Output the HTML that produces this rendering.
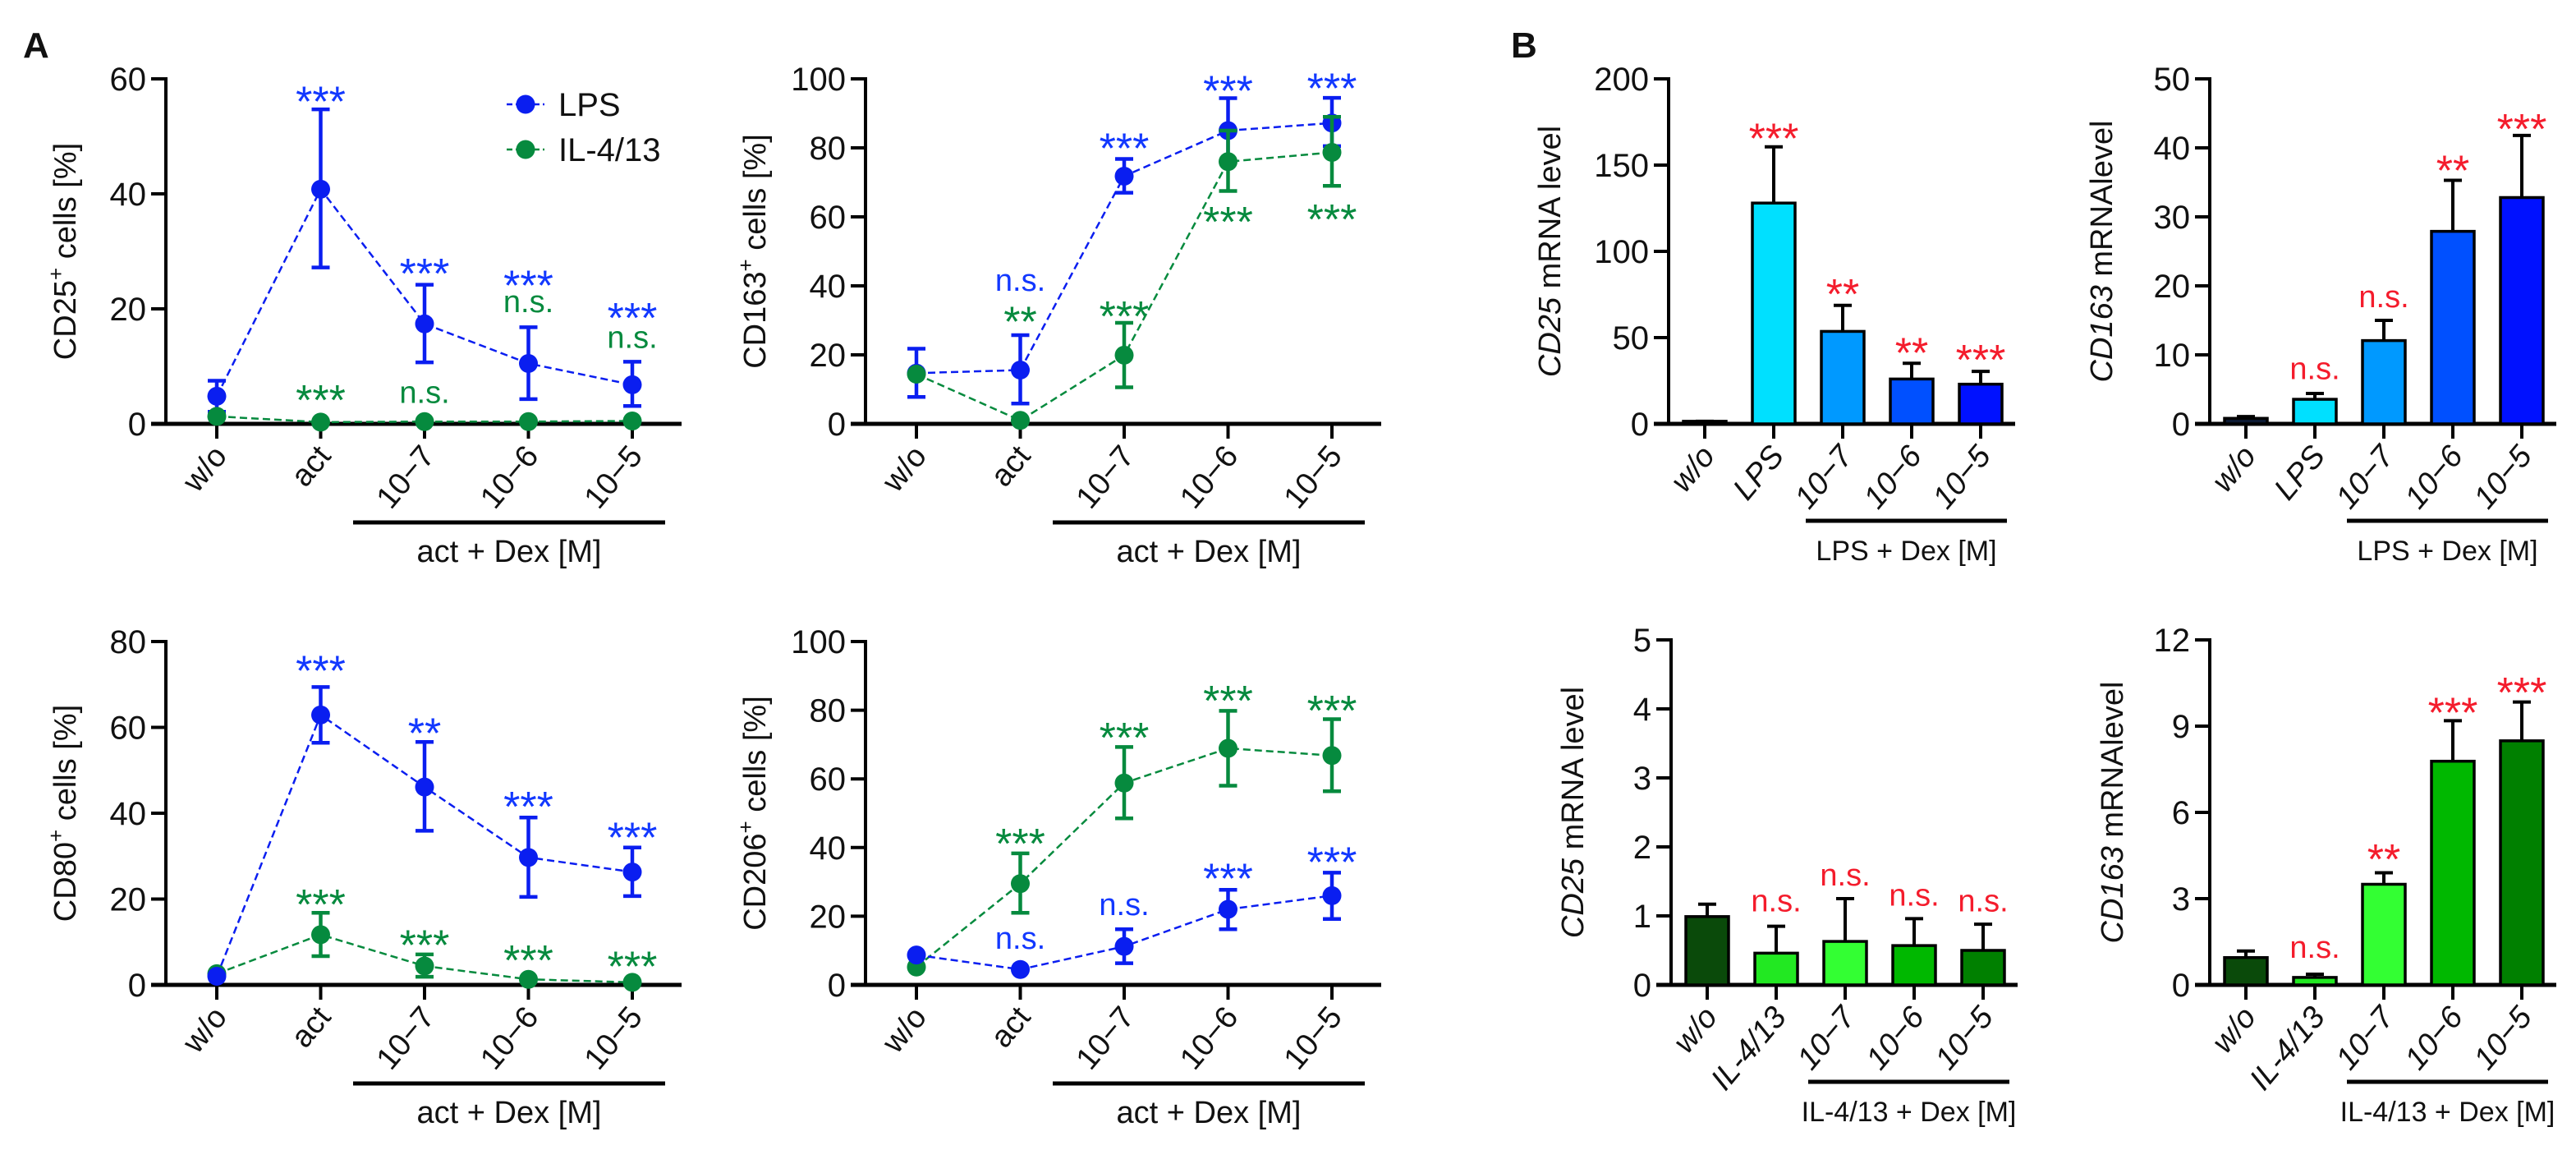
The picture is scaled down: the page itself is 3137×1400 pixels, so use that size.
<!DOCTYPE html>
<html><head><meta charset="utf-8"><style>
html,body{margin:0;padding:0;background:#fff}
svg{display:block}
text{font-family:"Liberation Sans",Arial,sans-serif;fill:#111}
</style></head><body>
<svg id="fig" width="3137" height="1400" viewBox="0 0 3137 1400" xmlns="http://www.w3.org/2000/svg">
<text x="28" y="70" font-size="44" font-weight="bold">A</text>
<text x="1840" y="70" font-size="44" font-weight="bold">B</text>
</svg>
<script>
// ---------- categories ----------
const lineCats = ["w/o","act","10\u22127","10\u22126","10\u22125"];
const lpsBarCats = ["w/o","LPS","10\u22127","10\u22126","10\u22125"];
const ilBarCats = ["w/o","IL-4/13","10\u22127","10\u22126","10\u22125"];

// ---------- CD25 line chart ----------
const cd25Ticks = [0,20,40,60];
const cd25Lps = [4.8,40.8,17.4,10.5,6.8];
const cd25LpsHi = [7.5,54.7,24.2,16.8,10.8];
const cd25LpsLo = [2.1,27.2,10.7,4.3,3.1];
const cd25Il = [1.3,0.3,0.4,0.4,0.5];
const cd25IlHi = [1.3,0.3,0.4,0.4,0.5];
const cd25IlLo = [1.3,0.3,0.4,0.4,0.5];
const cd25Notes = [[1,57.7,"***","b"],[2,27.8,"***","b"],[3,25.7,"***","b"],[3,20.9,"n.s.","g"],[4,20.1,"***","b"],[4,14.7,"n.s.","g"],[1,5.8,"***","g"],[2,5.1,"n.s.","g"]];

// ---------- CD163 line chart ----------
const cd163Ticks = [0,20,40,60,80,100];
const cd163Lps = [14.7,15.6,71.8,85,87.2];
const cd163LpsHi = [21.8,25.7,76.8,94.4,94.5];
const cd163LpsLo = [7.8,5.9,67,76,80.5];
const cd163Il = [14.4,1,19.9,76,78.7];
const cd163IlHi = [14.4,1,29.3,85,89];
const cd163IlLo = [14.4,1,10.6,67.5,69];
const cd163Notes = [[1,41,"n.s.","b"],[1,32.4,"**","g"],[2,82.7,"***","b"],[2,34,"***","g"],[3,99.3,"***","b"],[3,61.4,"***","g"],[4,100,"***","b"],[4,62,"***","g"]];

// ---------- CD80 line chart ----------
const cd80Ticks = [0,20,40,60,80];
const cd80Lps = [2,62.9,46.1,29.7,26.3];
const cd80LpsHi = [2,69.4,56.6,39,32];
const cd80LpsLo = [2,56.4,35.9,20.5,20.7];
const cd80Il = [2.6,11.7,4.4,1.3,0.6];
const cd80IlHi = [2.6,16.8,7.1,1.3,0.6];
const cd80IlLo = [2.6,6.7,1.9,1.3,0.6];
const cd80Notes = [[1,75.4,"***","b"],[2,60.9,"**","b"],[3,43.8,"***","b"],[4,36.6,"***","b"],[1,21,"***","g"],[2,11.5,"***","g"],[3,8,"***","g"],[4,6.5,"***","g"]];

// ---------- CD206 line chart ----------
const cd206Ticks = [0,20,40,60,80,100];
const cd206Lps = [8.7,4.5,11.2,22,26];
const cd206LpsHi = [8.7,4.5,16.2,27.7,32.7];
const cd206LpsLo = [8.7,4.5,6.3,16.2,19.2];
const cd206Il = [5.2,29.5,58.8,68.9,66.8];
const cd206IlHi = [5.2,38.3,69.3,79.8,77.4];
const cd206IlLo = [5.2,21,48.5,58,56.4];
const cd206Notes = [[1,43.9,"***","g"],[1,13,"n.s.","b"],[2,74.8,"***","g"],[2,22.8,"n.s.","b"],[3,85.6,"***","g"],[3,33.8,"***","b"],[4,82.7,"***","g"],[4,38.6,"***","b"]];

// ---------- bar charts ----------
const b1Ticks = [0,50,100,150,200];
const b1Vals = [1.5,128,53.6,26,23];
const b1Err = [1.5,160.6,68.7,35.1,30.4];
const b1Notes = [[1,171,"***"],[2,80.9,"**"],[3,46.8,"**"],[4,42.6,"***"]];
const b2Ticks = [0,10,20,30,40,50];
const b2Vals = [0.8,3.56,12.07,27.9,32.8];
const b2Err = [1.06,4.4,15,35.3,41.8];
const b2Notes = [[1,7.7,"n.s."],[2,18.1,"n.s."],[3,38.1,"**"],[4,44.1,"***"]];
const b3Ticks = [0,1,2,3,4,5];
const b3Vals = [0.99,0.46,0.63,0.57,0.5];
const b3Err = [1.17,0.85,1.25,0.96,0.88];
const b3Notes = [[1,1.19,"n.s."],[2,1.56,"n.s."],[3,1.27,"n.s."],[4,1.19,"n.s."]];
const b4Ticks = [0,3,6,9,12];
const b4Vals = [0.95,0.26,3.5,7.78,8.49];
const b4Err = [1.18,0.37,3.9,9.19,9.84];
const b4Notes = [[1,1.24,"n.s."],[2,4.7,"**"],[3,9.8,"***"],[4,10.5,"***"]];

const NS = "http://www.w3.org/2000/svg";
const svg = document.getElementById("fig");
const BLUE = "#0a1ef0", BLUE_T = "#1238ff", GREEN = "#068a3e", RED = "#f41c2c";
function mk(tag, attrs, parent){
  const e = document.createElementNS(NS, tag);
  for (const k in attrs) e.setAttribute(k, attrs[k]);
  (parent||svg).appendChild(e);
  return e;
}
function note(g, x, yc, txt, color){
  const star = txt.indexOf("*") >= 0;
  const fs = star ? 52 : 38;
  const t = mk("text", {x:x, y: yc + (star ? 0.57*fs : 0.27*fs), "font-size":fs, "text-anchor":"middle", fill:color}, g);
  t.style.fill = color;
  t.textContent = txt;
  
  
}
function axes(g, ax, y0, yTop, xEnd, ticks, yMax, cats, catX, italic, title, titleX, italicPart, sup, groupLabel, ulX1, ulX2, ulY){
  const ys = v => y0 - (v / yMax) * (y0 - yTop);
  ticks.forEach(t => {
    const l = mk("line", {x1:ax-18, x2:ax, y1:ys(t), y2:ys(t), stroke:"#000", "stroke-width":4}, g);
    
    
    const tx = mk("text", {x:ax-24, y:ys(t)+14, "font-size":40, "text-anchor":"end"}, g);
    tx.textContent = t;
    
    
  });
  const ya = mk("line", {x1:ax, x2:ax, y1:yTop-2, y2:y0+2, stroke:"#000", "stroke-width":4}, g);
  
  
  const xa = mk("line", {x1:ax-18, x2:xEnd, y1:y0, y2:y0, stroke:"#000", "stroke-width":5}, g);
  
  
  cats.forEach((c, i) => {
    const x = catX(i);
    const tk = mk("line", {x1:x, x2:x, y1:y0, y2:y0+18, stroke:"#000", "stroke-width":4}, g);
    
    
    const tl = mk("text", {transform:`translate(${x+14},${y0+40}) rotate(-50)`, "font-size":38, "text-anchor":"end"}, g);
    if (italic) tl.setAttribute("font-style", "italic");
    tl.textContent = c;
    
    
  });
  const yt = mk("text", {transform:`translate(${titleX},${(y0+yTop)/2}) rotate(-90)`, "font-size":38, "text-anchor":"middle"}, g);
  
  
  if (italicPart){
    const a = mk("tspan", {"font-style":"italic"}, yt); a.textContent = italicPart;
    const b = mk("tspan", {}, yt); b.textContent = title;
  } else {
    const a = mk("tspan", {}, yt); a.textContent = title;
    const s = mk("tspan", {"baseline-shift":"super", "font-size":26}, yt); s.textContent = "+";
    const b = mk("tspan", {}, yt); b.textContent = sup;
  }
  const ul = mk("line", {x1:ulX1, x2:ulX2, y1:ulY, y2:ulY, stroke:"#000", "stroke-width":5}, g);
  
  
  const gl = mk("text", {x:(ulX1+ulX2)/2, y:ulY+48, "font-size":italic ? 34 : 38, "text-anchor":"middle"}, g);
  gl.textContent = groupLabel;
  
  
  return ys;
}
function lineChart(name, ax, y0, yTop, ticks, title, titleX, lps, lpsHi, lpsLo, il, ilHi, ilLo, notes, drawOrder){
  const g = mk("g", {});
  
  
  const yMax = ticks[ticks.length-1];
  const catX = i => ax + 62 + i * 126.5;
  const ys = axes(g, ax, y0, yTop, ax + 628, ticks, yMax, lineCats, catX, false, title, titleX, null, " cells [%]", "act + Dex [M]", ax + 228, ax + 608, y0 + 120);
  const series = {lps:[lps,lpsHi,lpsLo,BLUE], il:[il,ilHi,ilLo,GREEN]};
  drawOrder.forEach(key => {
    const [v, hi, lo, col] = series[key];
    const sg = mk("g", {}, g);
    
    
    const pl = mk("polyline", {points: v.map((d,i)=>`${catX(i)},${ys(d)}`).join(" "), fill:"none", stroke:col, "stroke-width":2.5, "stroke-dasharray":"9,5"}, sg);
    
    
    v.forEach((d, i) => {
      const x = catX(i);
      if (hi[i] - lo[i] > 0.5){
        const eb = mk("path", {d:`M${x},${ys(hi[i])}V${ys(lo[i])}M${x-11},${ys(hi[i])}H${x+11}M${x-11},${ys(lo[i])}H${x+11}`, stroke:col, "stroke-width":4.5, fill:"none"}, sg);
        
        
      }
      const c = mk("circle", {cx:x, cy:ys(d), r:11.5, fill:col}, sg);
      
      
    });
  });
  notes.forEach(n => note(g, catX(n[0]), ys(n[1]), n[2], n[3] === "b" ? BLUE_T : GREEN));
  return g;
}
function barChart(name, ax, y0, yTop, ticks, italicPart, title, titleX, cats, vals, errs, colors, notes, groupLabel){
  const g = mk("g", {});
  
  
  const yMax = ticks[ticks.length-1];
  const catX = i => ax + 44 + i * 84;
  const ys = axes(g, ax, y0, yTop, ax + 422, ticks, yMax, cats, catX, true, title, titleX, italicPart, "", groupLabel, ax + 167, ax + 412, y0 + 118);
  vals.forEach((v, i) => {
    const x = catX(i);
    const e = mk("line", {x1:x, x2:x, y1:ys(errs[i]), y2:ys(v), stroke:"#000", "stroke-width":4}, g);
    
    
    const cap = mk("line", {x1:x-11, x2:x+11, y1:ys(errs[i]), y2:ys(errs[i]), stroke:"#000", "stroke-width":4}, g);
    
    
    const r = mk("rect", {x:x-26, y:ys(v), width:52, height:y0-ys(v), fill:colors[i], stroke:"#000", "stroke-width":3.5}, g);
    
    
  });
  notes.forEach(n => note(g, catX(n[0]), ys(n[1]), n[2], RED));
}

lineChart("cd25-line-chart", 202, 516, 96, cd25Ticks, "CD25", 92, cd25Lps, cd25LpsHi, cd25LpsLo, cd25Il, cd25IlHi, cd25IlLo, cd25Notes, ["lps","il"]);
lineChart("cd163-line-chart", 1054, 516, 96, cd163Ticks, "CD163", 932, cd163Lps, cd163LpsHi, cd163LpsLo, cd163Il, cd163IlHi, cd163IlLo, cd163Notes, ["lps","il"]);
lineChart("cd80-line-chart", 202, 1199, 781, cd80Ticks, "CD80", 92, cd80Lps, cd80LpsHi, cd80LpsLo, cd80Il, cd80IlHi, cd80IlLo, cd80Notes, ["il","lps"]);
lineChart("cd206-line-chart", 1054, 1199, 781, cd206Ticks, "CD206", 932, cd206Lps, cd206LpsHi, cd206LpsLo, cd206Il, cd206IlHi, cd206IlLo, cd206Notes, ["il","lps"]);

barChart("cd25-lps-bar-chart", 2032, 516, 96, b1Ticks, "CD25", " mRNA level", 1900, lpsBarCats, b1Vals, b1Err, ["#0d1a33","#00e0ff","#0099ff","#0050ff","#0011ff"], b1Notes, "LPS + Dex [M]");
barChart("cd163-lps-bar-chart", 2691, 516, 96, b2Ticks, "CD163", " mRNAlevel", 2572, lpsBarCats, b2Vals, b2Err, ["#0d1a33","#00e0ff","#0099ff","#0050ff","#0011ff"], b2Notes, "LPS + Dex [M]");
barChart("cd25-il-bar-chart", 2035, 1199, 779, b3Ticks, "CD25", " mRNA level", 1928, ilBarCats, b3Vals, b3Err, ["#0a4a0a","#22e822","#33ff33","#00b800","#008000"], b3Notes, "IL-4/13 + Dex [M]");
barChart("cd163-il-bar-chart", 2691, 1199, 779, b4Ticks, "CD163", " mRNAlevel", 2585, ilBarCats, b4Vals, b4Err, ["#0a4a0a","#22e822","#33ff33","#00b800","#008000"], b4Notes, "IL-4/13 + Dex [M]");

// legend
const lg = mk("g", {});


[["LPS",BLUE,127],["IL-4/13",GREEN,182]].forEach(d => {
  const l = mk("line", {x1:617, x2:663, y1:d[2], y2:d[2], stroke:d[1], "stroke-width":2.5, "stroke-dasharray":"7,4"}, lg);
  
  
  const c = mk("circle", {cx:640, cy:d[2], r:11.5, fill:d[1]}, lg);
  
  
  const t = mk("text", {x:680, y:d[2]+14, "font-size":40}, lg);
  t.textContent = d[0];
  
  
});
</script>
</body></html>
